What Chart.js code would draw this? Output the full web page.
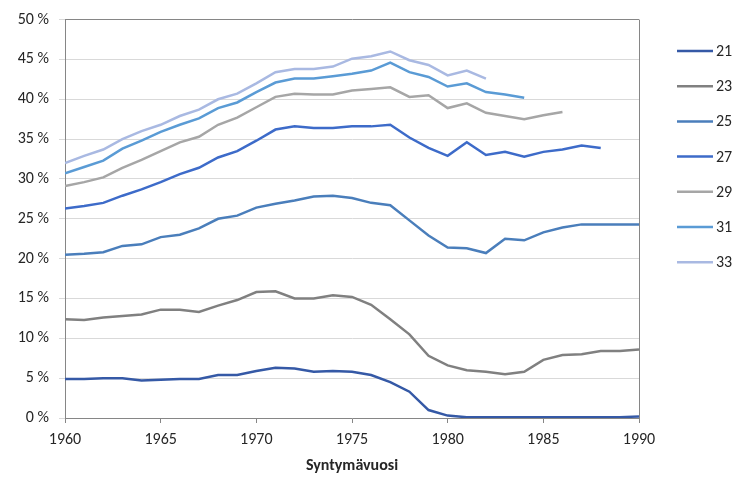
<!DOCTYPE html>
<html>
<head>
<meta charset="utf-8">
<script src="https://cdn.jsdelivr.net/npm/chart.js@4.4.1/dist/chart.umd.min.js"></script>
<style>
  html, body { margin: 0; padding: 0; background: #fff; }
  #wrap { width: 737px; height: 479px; }
</style>
</head>
<body>
<div id="wrap"><canvas id="chart" width="737" height="479"></canvas></div>
<script>
const years = [1960, 1961, 1962, 1963, 1964, 1965, 1966, 1967, 1968, 1969,
               1970, 1971, 1972, 1973, 1974, 1975, 1976, 1977, 1978, 1979,
               1980, 1981, 1982, 1983, 1984, 1985, 1986, 1987, 1988, 1989, 1990];

const s21 = [4.9, 4.9, 5.0, 5.0, 4.7, 4.8, 4.9, 4.9, 5.4, 5.4, 5.9, 6.3, 6.2, 5.8, 5.9, 5.8, 5.4, 4.5, 3.3, 1.0,
             0.3, 0.1, 0.1, 0.1, 0.1, 0.1, 0.1, 0.1, 0.1, 0.1, 0.2];
const s23 = [12.4, 12.3, 12.6, 12.8, 13.0, 13.6, 13.6, 13.3, 14.1, 14.8, 15.8, 15.9, 15.0, 15.0, 15.4, 15.2, 14.2, 12.4, 10.5, 7.8,
             6.6, 6.0, 5.8, 5.5, 5.8, 7.3, 7.9, 8.0, 8.4, 8.4, 8.6];
const s25 = [20.5, 20.6, 20.8, 21.6, 21.8, 22.7, 23.0, 23.8, 25.0, 25.4, 26.4, 26.9, 27.3, 27.8, 27.9, 27.6, 27.0, 26.7, 24.8, 22.9,
             21.4, 21.3, 20.7, 22.5, 22.3, 23.3, 23.9, 24.3, 24.3, 24.3, 24.3];
const s27 = [26.3, 26.6, 27.0, 27.9, 28.7, 29.6, 30.6, 31.4, 32.7, 33.5, 34.8, 36.2, 36.6, 36.4, 36.4, 36.6, 36.6, 36.8, 35.2, 33.9,
             32.9, 34.6, 33.0, 33.4, 32.8, 33.4, 33.7, 34.2, 33.9];
const s29 = [29.1, 29.6, 30.2, 31.4, 32.4, 33.5, 34.6, 35.3, 36.8, 37.7, 39.0, 40.3, 40.7, 40.6, 40.6, 41.1, 41.3, 41.5, 40.3, 40.5,
             38.9, 39.5, 38.3, 37.9, 37.5, 38.0, 38.4];
const s31 = [30.7, 31.5, 32.3, 33.8, 34.8, 35.9, 36.8, 37.6, 38.9, 39.6, 40.9, 42.1, 42.6, 42.6, 42.9, 43.2, 43.6, 44.6, 43.4, 42.8,
             41.6, 42.0, 40.9, 40.6, 40.2];
const s33 = [32.0, 32.9, 33.7, 35.0, 36.0, 36.8, 37.9, 38.7, 40.0, 40.7, 42.0, 43.4, 43.8, 43.8, 44.1, 45.1, 45.4, 46.0, 44.9, 44.3,
             43.0, 43.6, 42.6];

const seriesNames = ['21', '23', '25', '27', '29', '31', '33'];
const seriesValues = [s21, s23, s25, s27, s29, s31, s33];
const seriesColors = ['#3559a6', '#808080', '#4a7ebb', '#3d6bc9', '#a6a6a6', '#5a9bd5', '#a9b9e2'];

const FONT = 'Carlito, Calibri, Lato, sans-serif';
const TEXT = '#262626';

// legend drawn at the right, like the Excel one
const sideLegend = {
    id: 'sideLegend',
    afterDraw(chart) {
        const ctx = chart.ctx;
        const area = chart.chartArea;
        ctx.save();
        ctx.font = '16px ' + FONT;
        ctx.textBaseline = 'middle';
        ctx.fillStyle = TEXT;
        chart.data.datasets.forEach((ds, i) => {
            const y = 51 + i * 35.2;
            const x0 = area.right + 38;
            ctx.strokeStyle = ds.borderColor;
            ctx.lineWidth = 2.5;
            ctx.beginPath();
            ctx.moveTo(x0, y);
            ctx.lineTo(x0 + 36, y);
            ctx.stroke();
            ctx.fillText(ds.label, x0 + 39, y + 1);
        });
        ctx.restore();
    }
};

const datasets = seriesNames.map((name, i) => ({
    label: name,
    data: seriesValues[i].map((v, j) => ({ x: years[j], y: v })),
    borderColor: seriesColors[i],
    backgroundColor: seriesColors[i],
    borderWidth: 2.5,
    pointRadius: 0,
    tension: 0,
    fill: false
}));

new Chart(document.getElementById('chart').getContext('2d'), {
    type: 'line',
    data: { datasets: datasets },
    plugins: [sideLegend],
    options: {
        responsive: false,
        animation: false,
        layout: { padding: { top: 16, right: 98, left: 0, bottom: 0 } },
        plugins: {
            legend: { display: false },
            tooltip: { enabled: false }
        },
        scales: {
            x: {
                type: 'linear',
                min: 1960,
                max: 1990,
                afterFit: s => { s.height = 61; },
                ticks: {
                    stepSize: 5,
                    color: TEXT,
                    padding: 7,
                    font: { family: FONT, size: 16 },
                    callback: v => String(v)
                },
                grid: {
                    drawOnChartArea: true,
                    color: c => (c.tick && c.tick.value === 1990) ? '#868686' : 'rgba(0,0,0,0)',
                    tickColor: '#868686',
                    tickLength: 5
                },
                border: { color: '#868686', width: 1 },
                title: {
                    display: true,
                    text: 'Syntymävuosi',
                    color: TEXT,
                    font: { family: FONT, size: 16, weight: 'bold' },
                    padding: { top: 2, bottom: 3 }
                }
            },
            y: {
                min: 0,
                max: 50,
                afterFit: s => { s.width = 65; },
                ticks: {
                    stepSize: 5,
                    color: TEXT,
                    padding: 10,
                    font: { family: FONT, size: 16 },
                    callback: v => v + ' %'
                },
                grid: {
                    color: c => (c.tick && c.tick.value === 50) ? '#868686' : '#d9d9d9',
                    tickColor: '#d9d9d9',
                    tickLength: 6
                },
                border: { color: '#868686', width: 1 }
            }
        }
    }
});
</script>
</body>
</html>
